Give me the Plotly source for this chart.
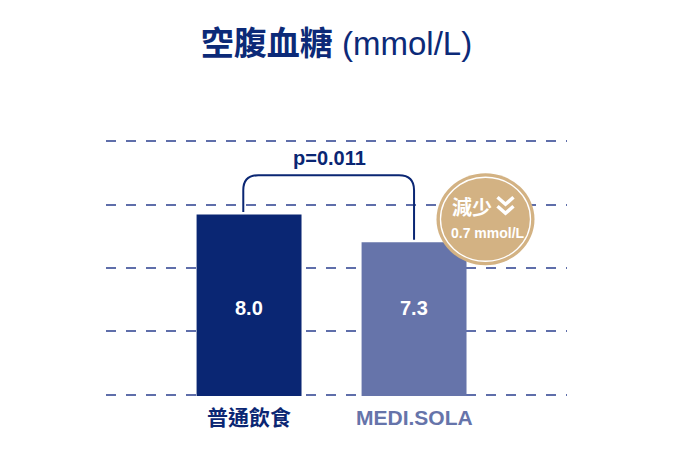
import numpy as np
import plotly.graph_objects as go

# Fasting blood glucose, normal diet vs MEDI.SOLA
categories = ["普通飲食", "MEDI.SOLA"]
values = [8.0, 7.3]
bar_colors = ["#0a2673", "#6674aa"]
p_text = "p=0.011"
reduction_text = "0.7 mmol/L"

NAVY = "#0a2673"
FONT = "Liberation Sans, Noto Sans CJK TC, sans-serif"

# visible value window (axis does not start at zero in the original artwork)
y_lo, y_hi = 3.45, 9.85
grid_vals = np.linspace(y_lo, y_hi, 5)
pad = 0.03  # keeps the outer gridlines inside the plot area

fig = go.Figure()
fig.add_trace(
    go.Bar(
        x=categories,
        y=values,
        marker=dict(color=bar_colors, line=dict(width=0)),
        hoverinfo="skip",
    )
)

# value labels inside the bars
for cat, v in zip(categories, values):
    fig.add_annotation(
        x=cat, y=y_lo, xref="x", yref="y",
        text=f"<b>{v:.1f}</b>", showarrow=False,
        yanchor="middle", yshift=87,
        font=dict(size=20, color="white", family=FONT),
    )

# category labels under the baseline
for cat, col in zip(categories, [NAVY, "#6674aa"]):
    fig.add_annotation(
        x=cat, y=y_lo, xref="x", yref="y",
        text=f"<b>{cat}</b>", showarrow=False,
        yanchor="middle", yshift=-23,
        font=dict(size=21, color=col, family=FONT),
    )

# significance bracket with rounded corners
xl, xr = -0.035, 1.0
y_top = 8.99
rx, ry = 0.091, 0.378
yl_bot = values[0] + 0.06
yr_bot = values[1] + 0.06
bracket = (
    f"M {xl},{yl_bot} L {xl},{y_top - ry} Q {xl},{y_top} {xl + rx},{y_top} "
    f"L {xr - rx},{y_top} Q {xr},{y_top} {xr},{y_top - ry} L {xr},{yr_bot}"
)
fig.add_shape(type="path", path=bracket, xref="x", yref="y",
              line=dict(color=NAVY, width=2))
fig.add_annotation(
    x=0.49, y=9.0, xref="x", yref="y", text=f"<b>{p_text}</b>",
    showarrow=False, yanchor="middle", yshift=17,
    font=dict(size=20, color=NAVY, family=FONT),
)

# reduction badge
bx, by = 1.433, 7.88
fig.add_shape(type="circle", xref="x", yref="y",
              xsizemode="pixel", ysizemode="pixel", xanchor=bx, yanchor=by,
              x0=-49, x1=49, y0=-46, y1=46,
              fillcolor="#d3b283", line=dict(width=0))
fig.add_shape(type="circle", xref="x", yref="y",
              xsizemode="pixel", ysizemode="pixel", xanchor=bx, yanchor=by,
              x0=-45, x1=45, y0=-42, y1=42,
              fillcolor="rgba(0,0,0,0)", line=dict(color="white", width=1.3))
fig.add_annotation(
    x=bx, y=by, xref="x", yref="y", text="<b>減少</b>", showarrow=False,
    xshift=-13, yshift=12,
    font=dict(size=20, color="white", family=FONT),
)
chevrons = "M 12,22 L 20,15 L 28,22 M 12,13 L 20,6 L 28,13"
fig.add_shape(type="path", path=chevrons, xref="x", yref="y",
              xsizemode="pixel", ysizemode="pixel", xanchor=bx, yanchor=by,
              line=dict(color="white", width=3.5))
fig.add_annotation(
    x=bx, y=by, xref="x", yref="y", text=f"<b>{reduction_text}</b>",
    showarrow=False, xshift=3, yshift=-14,
    font=dict(size=14, color="white", family=FONT),
)

# the page adds an 8px body margin, so offsets are 8px smaller than measured
fig.update_layout(
    width=673,
    height=456,
    margin=dict(l=98, r=114, t=132, b=68),
    paper_bgcolor="white",
    plot_bgcolor="white",
    showlegend=False,
    bargap=0.364,
    font=dict(family=FONT),
    title=dict(
        text="<b>空腹血糖</b> (mmol/L)",
        x=(98 + 461 / 2) / 673, xanchor="center",
        y=1 - 35 / 456, yanchor="middle", yref="container",
        font=dict(size=33, color="#0c2a78", family=FONT),
    ),
)
fig.update_xaxes(
    range=[-0.867, 1.927],
    showticklabels=False, showgrid=False, zeroline=False, showline=False,
)
fig.update_yaxes(
    range=[y_lo - pad, y_hi + pad],
    tickmode="array", tickvals=grid_vals,
    showticklabels=False, zeroline=False, showline=False,
    showgrid=True, gridcolor="#5f6eaa", gridwidth=1.6, griddash="10px,10px",
)

fig.write_html("out.html")
